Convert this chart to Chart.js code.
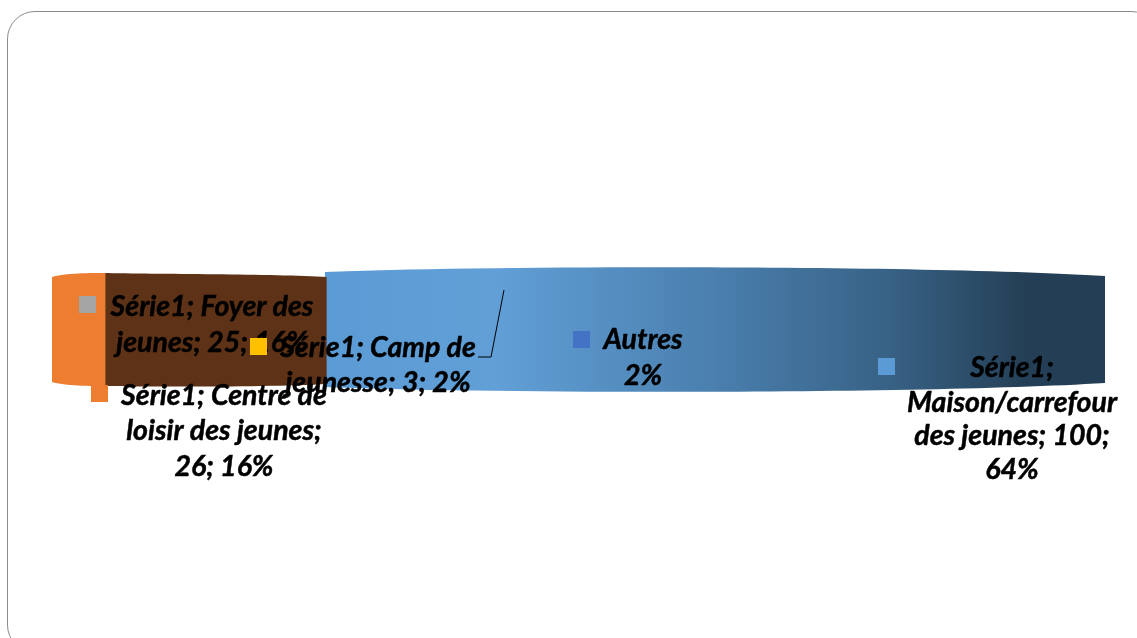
<!DOCTYPE html>
<html>
<head>
<meta charset="utf-8">
<title>Série1</title>
<script src="https://cdn.jsdelivr.net/npm/chart.js@4"></script>
<style>
  html, body { margin: 0; padding: 0; width: 1137px; height: 638px; overflow: hidden; background: #fff; }
  #frame { position: absolute; left: 7px; top: 11px; width: 1150px; height: 640px; border: 1.5px solid #8c8c8c; border-radius: 28px; }
  #wrap { position: absolute; left: 0; top: 0; width: 1137px; height: 638px; }
</style>
</head>
<body>
<div id="frame"></div>
<div id="wrap"><canvas id="chart"></canvas></div>
<script>
// what the labels say
const categories = ['Maison/carrefour des jeunes', 'Centre de loisir des jeunes', 'Foyer des jeunes', 'Camp de jeunesse', 'Autres'];
const counts = [100, 26, 25, 3, 3];
const percents = [64, 16, 16, 2, 2];

// share (%) of the visible band each slice takes, left to right
const bandSlices = ['Centre de loisir des jeunes', 'Foyer des jeunes', 'Maison/carrefour des jeunes'];
const bandShares = [5, 21, 74];
const bandColors = ['#ed7d31', '#5e3216', '#5b9bd5'];

const markerColors = ['#5b9bd5', '#ed7d31', '#a5a5a5', '#ffc000', '#4472c4'];

// label placement, same order as categories
const labelStyle = [
  { marker: [878, 358], x: 1012, y: [368, 403, 436, 470] },
  { marker: [91, 385], x: 224, y: [396, 431, 467] },
  { marker: [79, 296], x: 212, y: [307, 343] },
  { marker: [250, 338], x: 378, y: [348, 383] },
  { marker: [573, 331], x: 643, y: [340, 376] }
];
const labelLines = [
  ['Série1;', 'Maison/carrefour', `des jeunes; ${counts[0]};`, `${percents[0]}%`],
  ['Série1; Centre de', 'loisir des jeunes;', `${counts[1]}; ${percents[1]}%`],
  ['Série1; Foyer des', `jeunes; ${counts[2]}; ${percents[2]}%`],
  ['Série1; Camp de', `jeunesse; ${counts[3]}; ${percents[3]}%`],
  [categories[4], `${percents[4]}%`]
];

// how far each slice's curved edge sits inside the bar box: [top left, top ctrl, top right, bottom left, bottom ctrl, bottom right]
const edgeInset = [
  [10, 6, 6, 10, 6, 6],
  [6, 7, 10, 6, 5, 8],
  [5, -2, 9, 5, -2, 9]
];

function blueGradient(context) {
  const { ctx, chartArea } = context.chart;
  if (!chartArea) return bandColors[2];
  const g = ctx.createLinearGradient(325, 0, 1105, 0);
  g.addColorStop(0, '#5b9bd5');
  g.addColorStop(0.22, '#619fd6');
  g.addColorStop(0.5, '#4a7fae');
  g.addColorStop(0.72, '#386286');
  g.addColorStop(0.9, '#243f55');
  g.addColorStop(1, '#243f55');
  return g;
}

// bars are plain boxes, this trims each one to the curved band outline
const bandClip = {
  id: 'bandClip',
  beforeDatasetDraw(chart, args) {
    const bar = chart.getDatasetMeta(args.index).data[0];
    const inset = edgeInset[args.index];
    // neighbours overlap by a pixel so no white seam shows between them
    const left = bar.base - (args.index > 0 ? 1 : 0);
    const right = bar.x + (args.index < bandShares.length - 1 ? 1 : 0);
    const w = right - left;
    const c1 = left + w * 0.22, c2 = left + w * 0.77;
    const top = bar.y - bar.height / 2, bottom = bar.y + bar.height / 2;
    const ctx = chart.ctx;
    ctx.save();
    ctx.beginPath();
    ctx.moveTo(left, top + inset[0]);
    ctx.bezierCurveTo(c1, top + inset[1], c2, top + inset[1], right, top + inset[2]);
    ctx.lineTo(right, bottom - inset[5]);
    ctx.bezierCurveTo(c2, bottom - inset[4], c1, bottom - inset[4], left, bottom - inset[3]);
    ctx.closePath();
    ctx.clip();
  },
  afterDatasetDraw(chart) {
    chart.ctx.restore();
  }
};

const sliceLabels = {
  id: 'sliceLabels',
  afterDraw(chart) {
    const ctx = chart.ctx;
    ctx.save();
    // leader line of the Camp de jeunesse label
    ctx.strokeStyle = '#000';
    ctx.lineWidth = 1;
    ctx.beginPath();
    ctx.moveTo(504, 290);
    ctx.lineTo(491, 357);
    ctx.lineTo(478, 357);
    ctx.stroke();

    ctx.font = 'italic bold 28.5px Lato';
    ctx.textAlign = 'center';
    ctx.textBaseline = 'middle';
    ctx.lineWidth = 0.5;
    ctx.strokeStyle = '#000';
    labelStyle.forEach((s, i) => {
      ctx.fillStyle = markerColors[i];
      ctx.fillRect(s.marker[0], s.marker[1], 17, 17);
      ctx.fillStyle = '#000';
      labelLines[i].forEach((line, j) => {
        ctx.fillText(line, s.x, s.y[j]);
        ctx.strokeText(line, s.x, s.y[j]);
      });
    });
    ctx.restore();
  }
};

new Chart(document.getElementById('chart'), {
  type: 'bar',
  data: {
    labels: ['Série1'],
    datasets: bandSlices.map((name, i) => ({
      label: name,
      data: [bandShares[i]],
      backgroundColor: i === 2 ? blueGradient : bandColors[i],
      borderWidth: 0,
      inflateAmount: 1,
      barPercentage: 1,
      categoryPercentage: 1
    }))
  },
  options: {
    indexAxis: 'y',
    responsive: true,
    maintainAspectRatio: false,
    animation: false,
    layout: { padding: { left: 52, right: 32, top: 267, bottom: 246 } },
    scales: {
      x: { stacked: true, display: false, min: 0, max: 100 },
      y: { stacked: true, display: false }
    },
    plugins: { legend: { display: false }, tooltip: { enabled: false } }
  },
  plugins: [bandClip, sliceLabels]
});
</script>
</body>
</html>
